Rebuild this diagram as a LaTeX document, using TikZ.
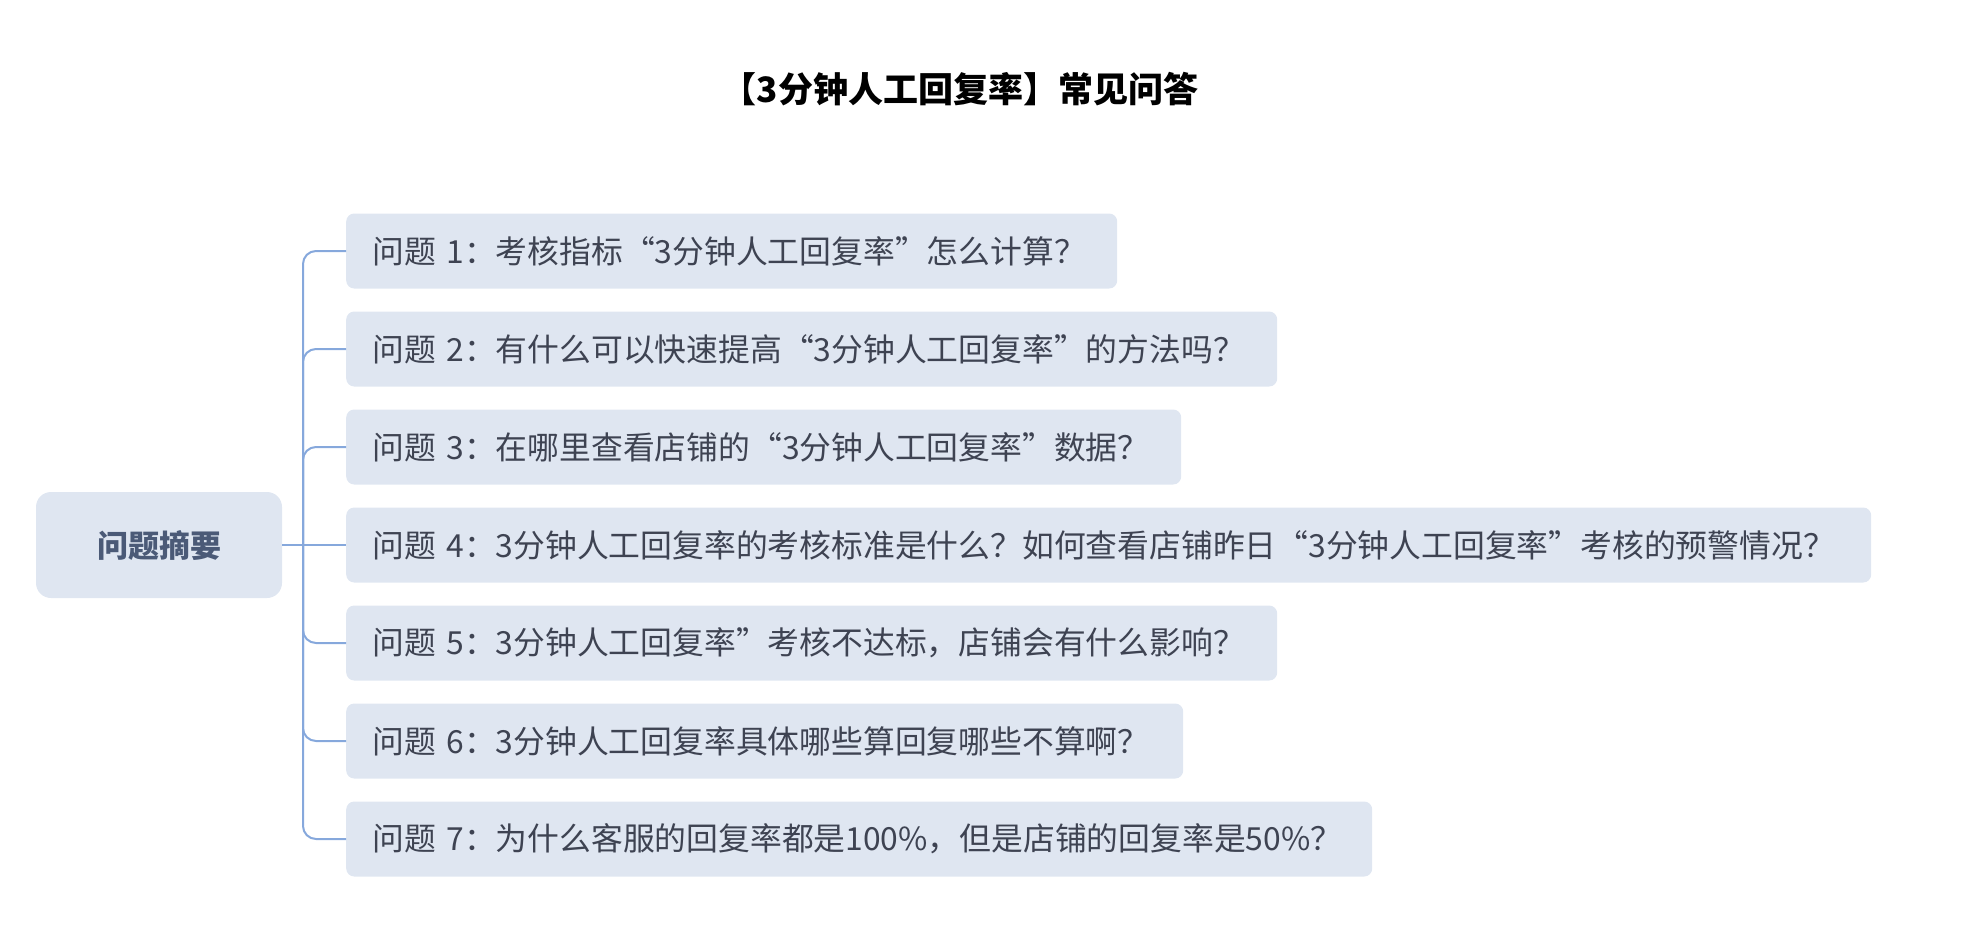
\documentclass[tikz,border=0pt]{standalone}
\usepackage{fontspec}
\newfontfamily\cjk{Noto Sans CJK SC}
\definecolor{boxfill}{HTML}{DFE6F1}
\definecolor{txt}{HTML}{3E4352}
\definecolor{roottxt}{HTML}{4B5A77}
\definecolor{conn}{HTML}{86A8DC}
\begin{document}
\begin{tikzpicture}[x=1pt,y=-1pt,
  qbox/.style={fill=boxfill,rounded corners=8pt,anchor=west,minimum height=75pt,
    inner xsep=26pt,inner ysep=0pt,align=left,font=\cjk\fontsize{31.8}{36}\selectfont,text=txt},
  rootbox/.style={fill=boxfill,rounded corners=15pt,minimum width=246pt,minimum height=106pt,
    font=\cjk\bfseries\fontsize{31}{36}\selectfont,text=roottxt},
  link/.style={draw=conn,line width=2pt,rounded corners=13pt}]
\useasboundingbox (0,0) rectangle (1974,940);
\node[font=\cjk\bfseries\fontsize{35}{40}\selectfont,text=black] (title) at (960,89) {【3分钟人工回复率】常见问答};
\node[rootbox] (root) at (159,545) {问题摘要};
\coordinate (hub) at (303,545);
\node[qbox,text width=719pt] (q1) at (346,251) {问题 1：考核指标“3分钟人工回复率”怎么计算？};
\node[qbox,text width=879pt] (q2) at (346,349) {问题 2：有什么可以快速提高“3分钟人工回复率”的方法吗？};
\node[qbox,text width=783pt] (q3) at (346,447) {问题 3：在哪里查看店铺的“3分钟人工回复率”数据？};
\node[qbox,text width=1473pt] (q4) at (346,545) {问题 4：3分钟人工回复率的考核标准是什么？如何查看店铺昨日“3分钟人工回复率”考核的预警情况？};
\node[qbox,text width=879pt] (q5) at (346,643) {问题 5：3分钟人工回复率”考核不达标，店铺会有什么影响？};
\node[qbox,text width=785pt] (q6) at (346,741) {问题 6：3分钟人工回复率具体哪些算回复哪些不算啊？};
\node[qbox,text width=974pt] (q7) at (346,839) {问题 7：为什么客服的回复率都是100\%，但是店铺的回复率是50\%？};
\draw[link] (root.east) -- (hub);
\foreach \q in {q1,q2,q3,q5,q6,q7} \draw[link] (hub) |- (\q.west);
\draw[link] (hub) -- (q4.west);
\end{tikzpicture}
\end{document}
